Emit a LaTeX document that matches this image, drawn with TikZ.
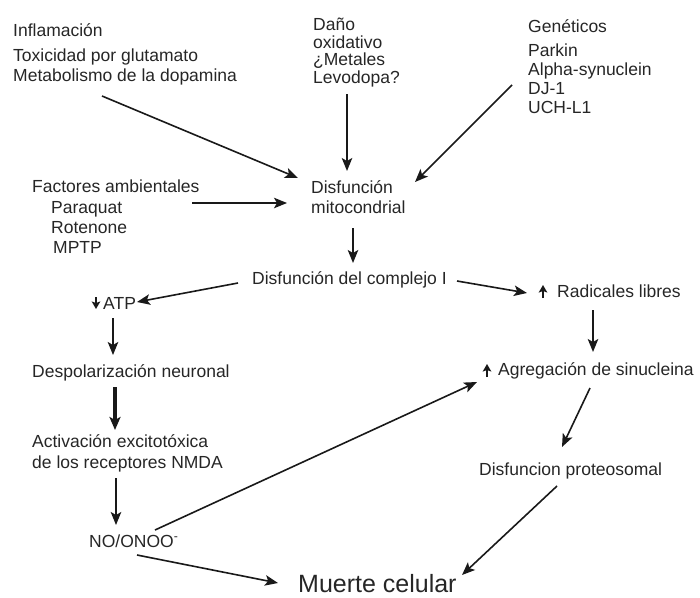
\documentclass[tikz,border=0pt]{standalone}
\usepackage{fontspec}
\setmainfont{Liberation Sans}
\usetikzlibrary{arrows.meta}
\begin{document}
\begin{tikzpicture}[x=1pt,y=-1pt,
  txt/.style={anchor=base west, inner sep=0pt, align=left, text=black!85, font=\fontsize{17.5}{20}\selectfont},
  arr/.style={-{Stealth[length=13pt,width=10.5pt,inset=3pt]}, line width=1.6pt, draw=black!90},
  thickarr/.style={-{Stealth[length=13pt,width=11pt,inset=3pt]}, line width=3.2pt, draw=black!90},
  updown/.style={-{Stealth[length=7.5pt,width=8.5pt,inset=1.5pt]}, line width=1.5pt, draw=black!90}]
\useasboundingbox (0,0) rectangle (700,597);

% multi-line nodes are anchored at the baseline of their last line
\node[txt] (inf) at (13,81) {Inflamación\\[4.5pt]Toxicidad por glutamato\\Metabolismo de la dopamina};
\node[txt, font=\fontsize{17.5}{17.5}\selectfont] (dano) at (313,83) {Daño\\oxidativo\\¿Metales\\Levodopa?};
\node[txt, font=\fontsize{17.5}{19}\selectfont] (gen) at (528,113) {Genéticos\\[5pt]Parkin\\Alpha-synuclein\\DJ-1\\UCH-L1};
\node[txt] (fac) at (32,253) {Factores ambientales\\[1pt]\hspace*{19pt}Paraquat\\\hspace*{19pt}Rotenone\\\hspace*{21pt}MPTP};
\node[txt] (mito) at (311,213) {Disfunción\\mitocondrial};
\node[txt] (comp) at (252,284) {Disfunción del complejo I};
\node[txt] (rad) at (557,297) {Radicales libres};
\node[txt] (atp) at (103,309) {ATP};
\node[txt] (desp) at (32,377) {Despolarización neuronal};
\node[txt, font=\fontsize{17.5}{21}\selectfont] (act) at (32,468) {Activación excitotóxica\\de los receptores NMDA};
\node[txt] (no) at (89,547) {NO/ONOO\textsuperscript{-}};
\node[txt, font=\fontsize{25}{30}\selectfont] (muerte) at (298,592) {Muerte celular};
\node[txt] (agr) at (498,375) {Agregación de sinucleina};
\node[txt] (prot) at (479,475) {Disfuncion proteosomal};

% small up/down markers
\draw[updown] ([shift={(-7,-12)}]atp.base west) -- ([shift={(-7,0)}]atp.base west);
\draw[updown] ([shift={(-14,1)}]rad.base west) -- ([shift={(-14,-12)}]rad.base west);
\draw[updown] ([shift={(-11,2)}]agr.base west) -- ([shift={(-11,-11)}]agr.base west);

% connectors
\draw[arr] ([shift={(89,15)}]inf.base west) -- ([shift={(-13,-35)}]mito.base west);
\draw[arr] ([shift={(34,11)}]dano.base west) -- ([shift={(36,-42)}]mito.base west);
\draw[arr] ([shift={(-16,-28)}]gen.base west) -- ([shift={(104,-31)}]mito.base west);
\draw[arr] ([shift={(160,-50)}]fac.base west) -- ([shift={(-24,-10)}]mito.base west);
\draw[arr] ([shift={(42,15)}]mito.base west) -- ([shift={(101,-21)}]comp.base west);
\draw[arr] ([shift={(-14,-1)}]comp.base west) -- ([shift={(34,-7)}]atp.base west);
\draw[arr] ([shift={(205,-3)}]comp.base west) -- ([shift={(-30,-4)}]rad.base west);
\draw[arr] ([shift={(36,13)}]rad.base west) -- ([shift={(95,-23)}]agr.base west);
\draw[arr] ([shift={(10,9)}]atp.base west) -- ([shift={(81,-22)}]desp.base west);
\draw[thickarr] ([shift={(83,10)}]desp.base west) -- ([shift={(83,-38)}]act.base west);
\draw[arr] ([shift={(84,10)}]act.base west) -- ([shift={(27,-22)}]no.base west);
\draw[arr] ([shift={(66,-17)}]no.base west) -- ([shift={(-21,7)}]agr.base west);
\draw[arr] ([shift={(48,8)}]no.base west) -- ([shift={(-20,-9)}]muerte.base west);
\draw[arr] ([shift={(92,13)}]agr.base west) -- ([shift={(83,-28)}]prot.base west);
\draw[arr] ([shift={(78,11)}]prot.base west) -- ([shift={(164,-17)}]muerte.base west);
\end{tikzpicture}
\end{document}
